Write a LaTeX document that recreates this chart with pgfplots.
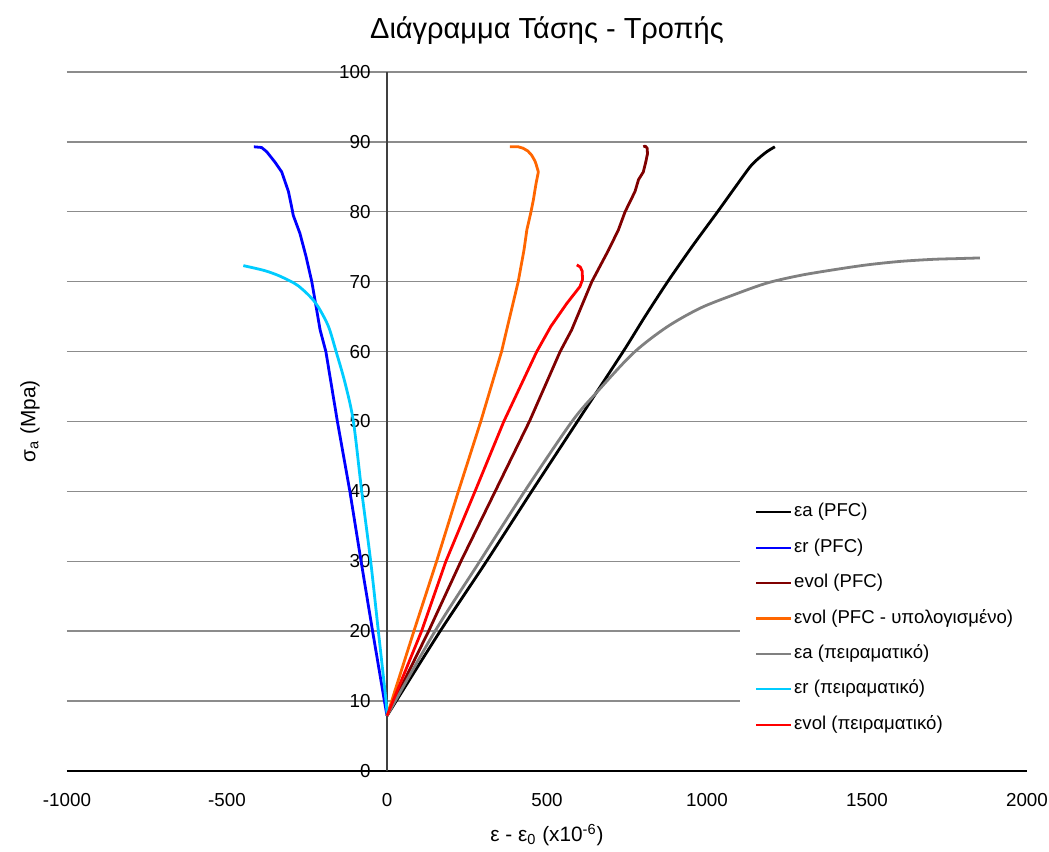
\documentclass[border=0pt]{standalone}
\usepackage{fontspec}
\setmainfont{Liberation Sans}
\usepackage{pgfplots}
\pgfplotsset{compat=1.18}

\definecolor{cBlack}{RGB}{0,0,0}
\definecolor{cBlue}{RGB}{0,0,255}
\definecolor{cDarkRed}{RGB}{128,0,0}
\definecolor{cOrange}{RGB}{255,102,0}
\definecolor{cGray}{RGB}{128,128,128}
\definecolor{cSky}{RGB}{0,204,255}
\definecolor{cRed}{RGB}{255,0,0}
\definecolor{cGrid}{RGB}{140,140,140}

\newcommand{\tickfont}{\fontsize{9.4}{11}\selectfont}
\newcommand{\labelfont}{\fontsize{10.4}{12}\selectfont}

\begin{document}
\begin{tikzpicture}
\begin{axis}[
  scale only axis, width=480pt, height=349.5pt,
  xmin=-1000, xmax=2000, ymin=0, ymax=100,
  axis x line=bottom, axis y line=middle,
  hide obscured x ticks=false, hide obscured y ticks=false,
  axis line style={-},
  x axis line style={black, line width=0.8pt},
  y axis line style={black!75, line width=0.7pt},
  xtick={-1000,-500,0,500,1000,1500,2000},
  xticklabels={-1000,-500,0,500,1000,1500,2000},
  ytick={0,10,20,30,40,50,60,70,80,90,100},
  yticklabels={0,10,20,30,40,50,60,70,80,90,100},
  major tick length=0pt,
  ymajorgrids, grid style={cGrid, line width=0.7pt},
  xticklabel style={anchor=center, yshift=-14.5pt, font=\tickfont},
  yticklabel style={anchor=east, inner sep=0pt, xshift=-8pt, font=\tickfont},
  title={Διάγραμμα Τάσης - Τροπής},
  every axis title/.style={at={(rel axis cs:0.5,1)}, anchor=center, yshift=20.5pt, font=\fontsize{14.5}{17}\selectfont},
  xlabel={ε - ε\textsubscript{0} (x10\textsuperscript{-6})},
  ylabel={σ\textsubscript{a} (Mpa)},
  every axis x label/.style={at={(rel axis cs:0.5,0)}, anchor=center, yshift=-32pt, font=\labelfont},
  every axis y label/.style={at={(rel axis cs:0,0.5)}, xshift=-18.5pt, rotate=90, anchor=center, font=\labelfont},
  legend style={draw=none, fill=white, at={(0.701,0.392)}, anchor=north west,
    inner xsep=7.5pt, inner ysep=2pt, row sep=6.8pt, font=\fontsize{9.3}{11}\selectfont,
    nodes={inner sep=0.8pt, text height=7pt, text depth=2.3pt}},
  legend cell align=left,
  legend image code/.code={\draw[#1, line width=1.1pt] (0pt,0pt) -- (17.5pt,0pt);},
  every axis plot/.append style={line width=1.4pt, line join=round, mark=none},
]
% axial strain, PFC model
\addplot[cBlack, smooth, tension=0.4] coordinates {
 (0,7.9) (166,20) (311,30) (452,40) (595,50) (738,60) (806,65) (877,70)
 (953,75) (1033,80) (1080,83) (1134,86.4) (1160,87.6) (1187,88.6) (1212,89.3)};
\addlegendentry{εa (PFC)}
% radial strain, PFC model
\addplot[cBlue] coordinates {
 (0,7.9) (-8,10) (-45,20) (-81,30) (-116,40) (-155,50) (-191,60) (-209,63.1)
 (-235,70) (-253,73.6) (-272,76.9) (-293,79.5) (-298,80.7) (-308,82.9)
 (-329,85.7) (-350,87.1) (-376,88.6) (-392,89.2) (-416,89.3)};
\addlegendentry{εr (PFC)}
% volumetric strain, PFC model
\addplot[cDarkRed] coordinates {
 (0,7.9) (130,20) (231,30) (338,40) (445,50) (541,60) (577,63.1) (640,70)
 (692,74.5) (723,77.4) (744,80) (775,82.9) (786,84.6) (801,85.7) (809,87.2)
 (814,88.3) (813,89.1) (807,89.4) (801,89.3)};
\addlegendentry{evol (PFC)}
% volumetric strain, computed from the PFC strains
\addplot[cOrange] coordinates {
 (0,7.9) (84,20) (155,30) (223,40) (293,50) (358,60) (374,63.1) (410,70)
 (428,74.5) (437,77.4) (450,80) (457,81.6) (466,84.1) (473,85.7) (466,86.8)
 (462,87.3) (452,88.1) (440,88.7) (425,89.1) (410,89.3) (384,89.3)};
\addlegendentry{εvol (PFC - υπολογισμένο)}
% axial strain, laboratory test
\addplot[cGray, smooth, tension=0.5] coordinates {
 (0,7.9) (150,20) (290,30) (430,40) (578,50) (660,54.4) (770,59.8) (874,63.5)
 (978,66.2) (1082,68.1) (1187,69.8) (1291,70.9) (1395,71.7) (1499,72.4)
 (1603,72.9) (1707,73.2) (1780,73.3) (1853,73.4)};
\addlegendentry{εa (πειραματικό)}
% radial strain, laboratory test
\addplot[cSky, smooth, tension=0.5] coordinates {
 (0,7.9) (-3,10) (-27,20) (-51,30) (-79,40) (-105,50) (-131,55.5) (-159,60)
 (-183,63.6) (-215,66.4) (-241,67.9) (-277,69.4) (-303,70.1) (-340,70.9)
 (-376,71.5) (-410,71.9) (-449,72.3)};
\addlegendentry{εr (πειραματικό)}
% volumetric strain, laboratory test
\addplot[cRed] coordinates {
 (0,7.9) (108,20) (184,30) (275,40) (365,50) (468,60) (512,63.6) (562,66.9)
 (603,69.3) (611,70.3) (610,71.5) (604,72.1) (593,72.4)};
\addlegendentry{εvol (πειραματικό)}
\coordinate (bl) at (rel axis cs:0,0);
\coordinate (tr) at (rel axis cs:1,1);
\end{axis}
\pgfresetboundingbox
\path[use as bounding box] ([xshift=-33.5pt,yshift=-40pt]bl) rectangle ([xshift=11pt,yshift=36pt]tr);
\end{tikzpicture}
\end{document}
